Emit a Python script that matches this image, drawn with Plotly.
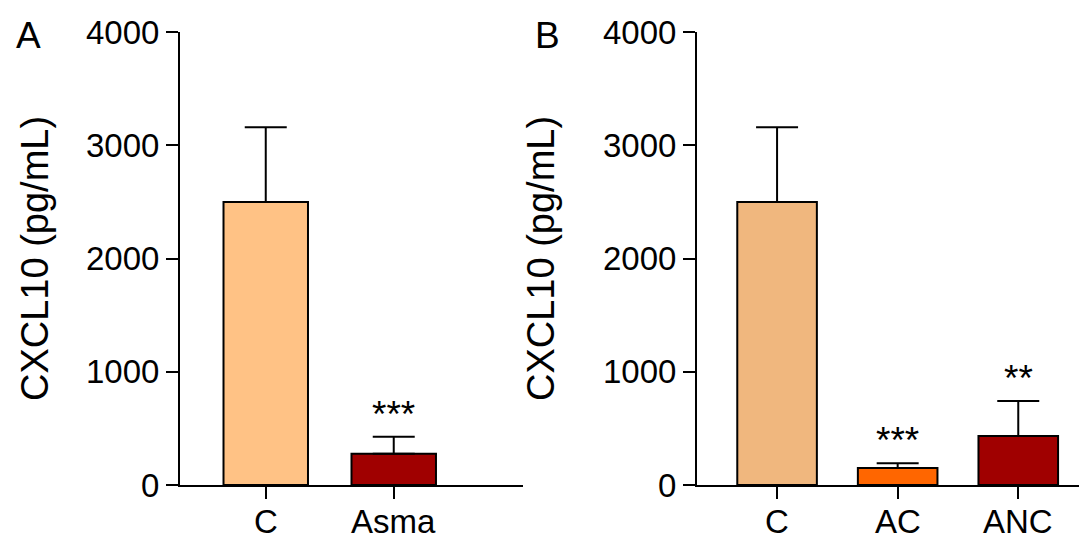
import plotly.graph_objects as go

# Panel A data
cats_a = ["C", "Asma"]
means_a = [2500, 275]
errs_a = [660, 150]
colors_a = ["#FFC285", "#A00000"]
stars_a = ["", "***"]

# Panel B data
cats_b = ["C", "AC", "ANC"]
means_b = [2500, 150, 433]
errs_b = [660, 42, 308]
colors_b = ["#F0B77E", "#FF6600", "#A00000"]
stars_b = ["", "***", "**"]

y_ticks = [0, 1000, 2000, 3000, 4000]
y_title = "CXCL10 (pg/mL)"
panel_labels = ["A", "B"]

FONT = "Arial, Liberation Sans, Helvetica, sans-serif"
# the page body has an 8px default margin; size the figure to fit the window
OFF = 8
W, H = 1087 - OFF, 535 - OFF


def px(x):
    return (x - OFF) / W


def py(y):
    return 1 - (y - OFF) / H


fig = go.Figure()

fig.add_trace(go.Bar(
    x=cats_a, y=means_a, width=0.66,
    marker=dict(color=colors_a, line=dict(color="black", width=2)),
    error_y=dict(type="data", symmetric=False, array=errs_a, arrayminus=[0]*len(errs_a),
                 width=21, thickness=2, color="black"),
    xaxis="x", yaxis="y", showlegend=False,
))
fig.add_trace(go.Bar(
    x=cats_b, y=means_b, width=0.66,
    marker=dict(color=colors_b, line=dict(color="black", width=2)),
    error_y=dict(type="data", symmetric=False, array=errs_b, arrayminus=[0]*len(errs_b),
                 width=21, thickness=2, color="black"),
    xaxis="x2", yaxis="y2", showlegend=False,
))

ydom = [py(485), py(32)]
axis_common = dict(showline=True, linecolor="black", linewidth=2, ticks="outside",
                   ticklen=12, tickwidth=2, tickcolor="black", showgrid=False,
                   zeroline=False, automargin=False,
                   tickfont=dict(family=FONT, size=33, color="black"))

fig.update_layout(
    width=W, height=H,
    margin=dict(l=0, r=0, t=0, b=0, autoexpand=False),
    plot_bgcolor="white", paper_bgcolor="white",
    xaxis=dict(domain=[px(180), px(523)], range=[-0.67, 2.01], type="category",
               showticklabels=False, **axis_common),
    yaxis=dict(domain=ydom, range=[0, 4000], tickvals=y_ticks, anchor="x", **axis_common),
    xaxis2=dict(domain=[px(697), 1.0], range=[-0.664, 2.57], type="category", anchor="y2",
                showticklabels=False, **axis_common),
    yaxis2=dict(domain=ydom, range=[0, 4000], tickvals=y_ticks, anchor="x2", **axis_common),
)

annotations = []
# axis titles
for xc in (35, 541):
    annotations.append(dict(text=y_title, x=px(xc), y=py(259), xref="paper", yref="paper",
                            textangle=-90, showarrow=False, xanchor="center", yanchor="middle",
                            font=dict(family=FONT, size=38, color="black")))
# panel labels
for lbl, xc in zip(panel_labels, (28, 547)):
    annotations.append(dict(text=lbl, x=px(xc), y=py(36), xref="paper", yref="paper",
                            showarrow=False, xanchor="center", yanchor="middle",
                            font=dict(family=FONT, size=37, color="black")))
# category labels and significance stars
for cats, means, errs, stars, xr, yr in ((cats_a, means_a, errs_a, stars_a, "x", "y"),
                                         (cats_b, means_b, errs_b, stars_b, "x2", "y2")):
    for c, m, e, s in zip(cats, means, errs, stars):
        annotations.append(dict(text=c, x=c, y=0, xref=xr, yref=yr, showarrow=False,
                                xanchor="center", yanchor="middle", yshift=-36,
                                font=dict(family=FONT, size=33, color="black")))
        if s:
            annotations.append(dict(text=s, x=c, y=m + e, xref=xr, yref=yr, showarrow=False,
                                    xanchor="center", yanchor="bottom", yshift=0,
                                    font=dict(family=FONT, size=37, color="black")))
fig.update_layout(annotations=annotations)

fig.write_html("out.html")
